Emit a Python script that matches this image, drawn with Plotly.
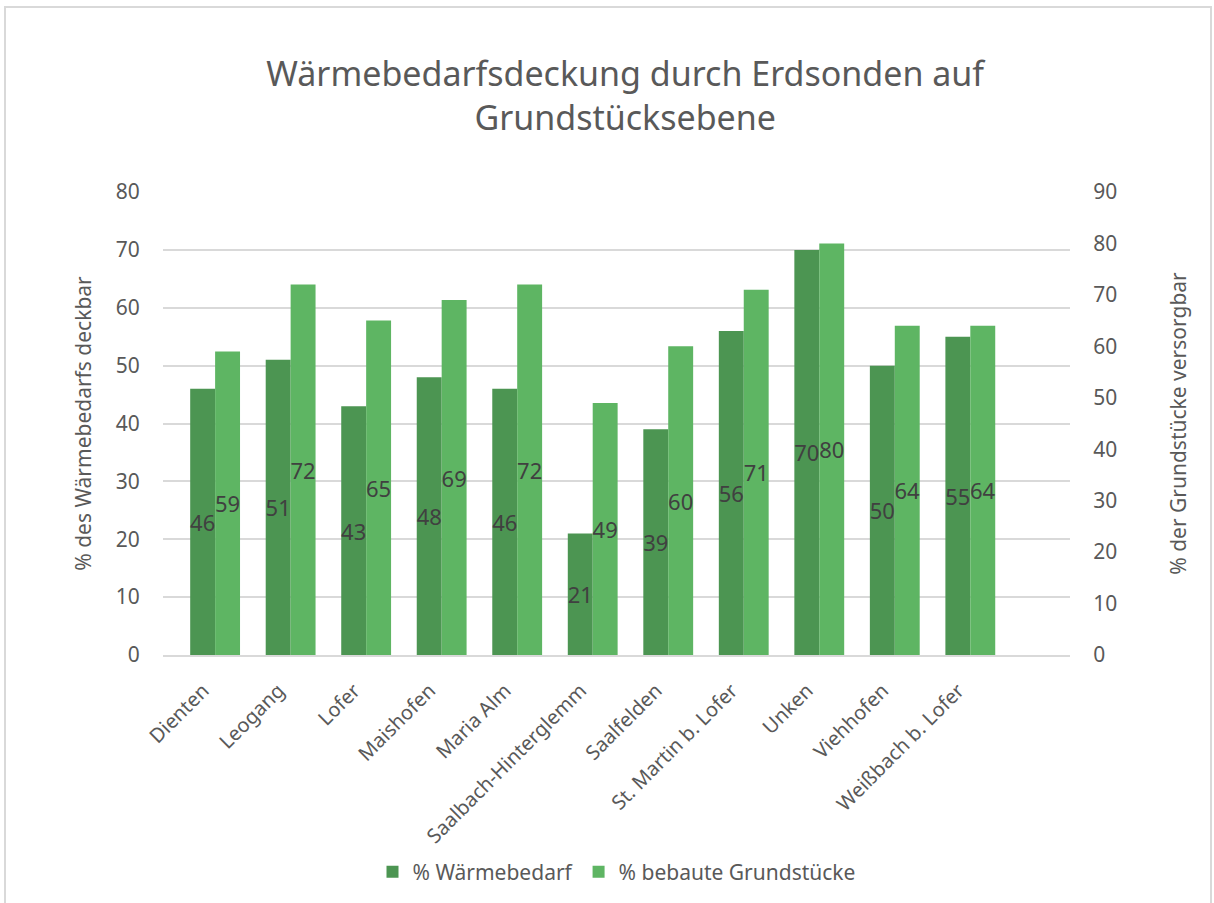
import plotly.graph_objects as go

# Data
gemeinden = ['Dienten', 'Leogang', 'Lofer', 'Maishofen', 'Maria Alm',
             'Saalbach-Hinterglemm', 'Saalfelden', 'St. Martin b. Lofer',
             'Unken', 'Viehhofen', 'Weißbach b. Lofer']
waermebedarf = [46, 51, 43, 48, 46, 21, 39, 56, 70, 50, 55]
grundstuecke = [59, 72, 65, 69, 72, 49, 60, 71, 80, 64, 64]

dark_green = '#4C9552'
light_green = '#5EB563'
text_grey = '#595959'
font_family = 'Noto Sans, sans-serif'

fig = go.Figure()

# Dark bars on the left axis
fig.add_trace(go.Bar(
    x=gemeinden, y=waermebedarf, name='% Wärmebedarf',
    marker=dict(color=dark_green, line=dict(width=0)),
    offsetgroup=1, yaxis='y',
    text=waermebedarf, textposition='inside', insidetextanchor='middle',
    textangle=0, constraintext='none',
    textfont=dict(color='#404040', size=22, family=font_family),
))

# Light bars on the right axis
fig.add_trace(go.Bar(
    x=gemeinden, y=grundstuecke, name='% bebaute Grundstücke',
    marker=dict(color=light_green, line=dict(width=0)),
    offsetgroup=2, yaxis='y2',
    text=grundstuecke, textposition='inside', insidetextanchor='middle',
    textangle=0, constraintext='none',
    textfont=dict(color='#404040', size=22, family=font_family),
))

fig.update_layout(
    width=1214, height=903,
    margin=dict(l=163, r=144, t=192, b=248, autoexpand=False),
    paper_bgcolor='white', plot_bgcolor='white',
    font=dict(family=font_family, size=20, color=text_grey),
    barmode='group', bargap=0.34, bargroupgap=0,
    title=dict(text='Wärmebedarfsdeckung durch Erdsonden auf<br>Grundstücksebene',
               x=0.515, xanchor='center', y=0.905, yanchor='middle',
               font=dict(size=34, color=text_grey, family=font_family)),
    showlegend=True,
    legend=dict(orientation='h', x=0.5, xanchor='center', y=-0.469, yanchor='middle',
                font=dict(size=21, color=text_grey), itemwidth=30,
                traceorder='normal'),
    # the Excel category axis leaves more room on the right than on the left
    xaxis=dict(range=[-0.69, 11.32], tickangle=-45, showgrid=False, showline=True,
               linecolor='#D9D9D9', linewidth=2, ticks='outside', ticklen=14,
               ticklabelshift=-12,
               tickcolor='rgba(0,0,0,0)', tickfont=dict(size=20, color=text_grey)),
    yaxis=dict(range=[0, 80], dtick=10, showgrid=True, gridcolor='#D9D9D9', gridwidth=2,
               zeroline=False, ticks='outside', ticklen=18, tickcolor='rgba(0,0,0,0)',
               tickfont=dict(size=21, color=text_grey),
               title=dict(text='% des Wärmebedarfs deckbar', standoff=18,
                          font=dict(size=21, color=text_grey))),
    yaxis2=dict(range=[0, 90], dtick=10, overlaying='y', side='right', showgrid=False,
                zeroline=False, ticks='outside', ticklen=18, tickcolor='rgba(0,0,0,0)',
                tickfont=dict(size=21, color=text_grey),
                title=dict(text='% der Grundstücke versorgbar', standoff=55,
                           font=dict(size=21, color=text_grey))),
)

# Thin grey frame around the chart area, like the Excel chart border
fig.add_shape(type='rect', xref='paper', yref='paper',
              x0=(5 - 163) / 907, x1=(1211 - 163) / 907,
              y0=(655 - 905) / 463, y1=(655 - 7) / 463,
              line=dict(color='#D9D9D9', width=2), fillcolor='rgba(0,0,0,0)',
              layer='below')

# Remove the default page margin so the figure sits at the window's top-left corner
fig.write_html('out.html', config={'displayModeBar': False},
               post_script="document.body.style.margin='0';")
